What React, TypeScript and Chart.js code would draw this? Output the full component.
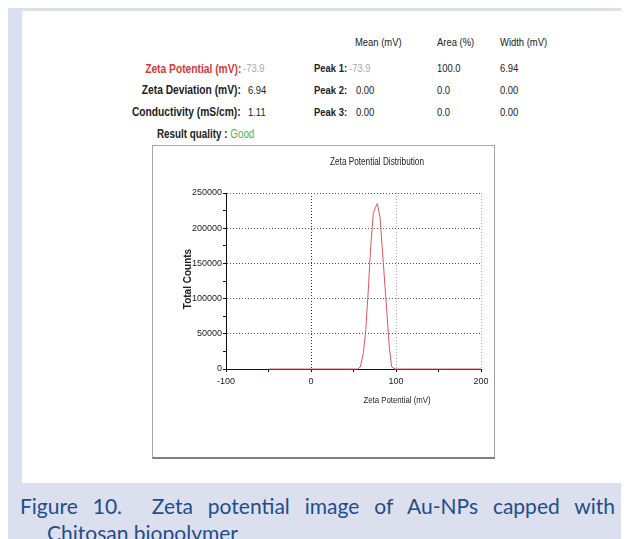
import React, { useEffect, useRef } from "react";
import { Chart, registerables } from "chart.js";

Chart.register(...registerables);

// Zeta potential distribution curve (mV vs. total counts)
const zetaPotentialMv = [-50, 0, 50, 55, 58, 61.5, 64.4, 67.4, 70.2, 73.3, 75.5, 78, 81.2, 85.1, 89.1, 92.1, 94.9, 98.8, 150, 200];
const totalCounts = [0, 0, 0, 0, 3000, 22000, 55000, 112000, 173000, 221000, 229000, 235000, 216000, 150000, 83000, 31000, 3000, 0, 0, 0];

// Axis tick labels
const xTickLabels = [-100, 0, 100, 200];
const yTickLabels = [0, 50000, 100000, 150000, 200000, 250000];

// Result summary table
const columnHeads = ["Mean (mV)", "Area (%)", "Width (mV)"];
const summaryLabels = ["Zeta Potential (mV):", "Zeta Deviation (mV):", "Conductivity (mS/cm):"];
const summaryValues = ["-73.9", "6.94", "1.11"];
const peakLabels = ["Peak 1:", "Peak 2:", "Peak 3:"];
const peakMeans = ["-73.9", "0.00", "0.00"];
const peakAreas = ["100.0", "0.0", "0.0"];
const peakWidths = ["6.94", "0.00", "0.00"];
const qualityLabel = "Result quality : ";
const qualityValue = "Good";

const chartTitle = "Zeta Potential Distribution";
const xAxisTitle = "Zeta Potential (mV)";
const yAxisTitle = "Total Counts";
const captionText = "Figure 10.\u00a0 Zeta potential image of Au-NPs capped with Chitosan biopolymer";

const SANS = "'Liberation Sans', Arial, sans-serif";
const NARROW_SCALE = 0.82; // condensed look for the instrument report text

const ORIGIN = 8; // body margin
const ROW_Y = [69, 90.7, 112.3];

function condensedText(ctx: CanvasRenderingContext2D, text: string, x: number, y: number) {
  ctx.save();
  ctx.translate(x, y);
  ctx.scale(NARROW_SCALE, 1);
  ctx.fillText(text, 0, 0);
  ctx.restore();
}

const axisText = {
  id: "axisText",
  afterDraw(chart: any) {
    const { ctx, chartArea } = chart;
    ctx.save();
    ctx.fillStyle = "#222";
    ctx.textAlign = "center";
    ctx.textBaseline = "middle";
    ctx.font = `10px ${SANS}`;
    condensedText(ctx, chartTitle, chartArea.left + 151, 16);
    ctx.font = `9.5px ${SANS}`;
    condensedText(ctx, xAxisTitle, chartArea.left + 171, chartArea.bottom + 31);
    ctx.translate(35, (chartArea.top + chartArea.bottom) / 2 - 2);
    ctx.rotate(-Math.PI / 2);
    ctx.font = `bold 10px ${SANS}`;
    ctx.fillText(yAxisTitle, 0, 0);
    ctx.restore();
  },
};

function ZetaChart() {
  const ref = useRef<HTMLCanvasElement | null>(null);
  useEffect(() => {
    if (!ref.current) return;
    const chart = new Chart(ref.current, {
      type: "line",
      data: {
        datasets: [
          {
            data: zetaPotentialMv.map((x, i) => ({ x, y: totalCounts[i] })),
            borderColor: "#e05660",
            borderWidth: 1,
            pointRadius: 0,
            tension: 0,
            fill: false,
            clip: false as any,
          },
        ],
      },
      options: {
        animation: false,
        responsive: false,
        devicePixelRatio: 1,
        layout: { padding: { top: 47, right: 13, left: 0, bottom: 0 } },
        plugins: { legend: { display: false }, tooltip: { enabled: false }, title: { display: false } },
        scales: {
          x: {
            type: "linear",
            min: -100,
            max: 200,
            afterFit: (s: any) => {
              s.height = 88;
            },
            ticks: {
              stepSize: 50,
              autoSkip: false,
              maxRotation: 0,
              padding: 4,
              color: "#222",
              font: { size: 9, family: SANS },
              callback: (v: any) => (xTickLabels.includes(Number(v)) ? String(v) : ""),
            },
            grid: {
              color: (c: any) => {
                const v = c.tick ? c.tick.value : 0;
                if (v === 0) return "#333";
                if (v === 100 || v === 200) return "#aaa";
                return "rgba(0,0,0,0)";
              },
              lineWidth: 1,
              tickLength: 3,
              tickColor: "#111",
              tickWidth: 1,
            },
            border: { display: true, color: "#111", width: 1, dash: [1, 2] },
          },
          y: {
            min: 0,
            max: 250000,
            afterFit: (s: any) => {
              s.width = 73;
            },
            ticks: {
              stepSize: 25000,
              autoSkip: false,
              padding: 1,
              color: "#222",
              font: { size: 9, family: SANS },
              callback: (v: any) => (yTickLabels.includes(Number(v)) ? String(v) : ""),
            },
            grid: {
              color: (c: any) => {
                const v = c.tick ? c.tick.value : 0;
                return v % 50000 === 0 && v > 0 ? "#555" : "rgba(0,0,0,0)";
              },
              lineWidth: 1,
              tickLength: 3,
              tickColor: "#111",
              tickWidth: 1,
            },
            border: { display: true, color: "#111", width: 1, dash: [1, 2] },
          },
        },
      },
      plugins: [axisText],
    });
    return () => chart.destroy();
  }, []);
  return <canvas ref={ref} width={341} height={311} style={{ display: "block" }} />;
}

function Txt(props: { x: number; y: number; size: number; right?: boolean; bold?: boolean; color?: string; children: React.ReactNode }) {
  const { x, y, size, right, bold, color, children } = props;
  const box: React.CSSProperties = {
    position: "absolute",
    top: y - ORIGIN - size / 2,
    fontSize: size,
    lineHeight: `${size}px`,
    whiteSpace: "nowrap",
    fontFamily: SANS,
    fontWeight: bold ? 700 : 400,
    color: color || "#222",
  };
  if (right) box.right = 621 - (x - ORIGIN);
  else box.left = x - ORIGIN;
  return (
    <div style={box}>
      <span
        style={{
          display: "inline-block",
          transform: `scaleX(${NARROW_SCALE})`,
          transformOrigin: right ? "right center" : "left center",
        }}
      >
        {children}
      </span>
    </div>
  );
}

export default function App() {
  useEffect(() => {
    document.documentElement.style.overflow = "hidden";
    document.body.style.overflow = "hidden";
  }, []);
  const colX = [355, 437, 500];
  const valueX = [243, 248, 248];
  return (
    <div style={{ position: "relative", width: 621, height: 531, background: "#dcdfee", overflow: "hidden" }}>
      <div style={{ position: "absolute", left: 14, top: 3, width: 600, height: 472, background: "#fff" }} />

      {columnHeads.map((h, i) => (
        <Txt key={h} x={colX[i]} y={42.5} size={11.5}>
          {h}
        </Txt>
      ))}

      {summaryLabels.map((l, i) => (
        <Txt key={l} x={241} y={ROW_Y[i]} size={12.5} right bold color={i === 0 ? "#d23a3a" : "#222"}>
          {l}
        </Txt>
      ))}
      {summaryValues.map((v, i) => (
        <Txt key={"sv" + i} x={valueX[i]} y={ROW_Y[i]} size={11.5} color={i === 0 ? "#a8a8a8" : "#222"}>
          {v}
        </Txt>
      ))}

      {peakLabels.map((l, i) => (
        <Txt key={l} x={314} y={ROW_Y[i]} size={11.5} bold>
          {l}
        </Txt>
      ))}
      {peakMeans.map((v, i) => (
        <Txt key={"pm" + i} x={i === 0 ? 349 : 356} y={ROW_Y[i]} size={11.5} color={i === 0 ? "#a8a8a8" : "#222"}>
          {v}
        </Txt>
      ))}
      {peakAreas.map((v, i) => (
        <Txt key={"pa" + i} x={437} y={ROW_Y[i]} size={11.5}>
          {v}
        </Txt>
      ))}
      {peakWidths.map((v, i) => (
        <Txt key={"pw" + i} x={500} y={ROW_Y[i]} size={11.5}>
          {v}
        </Txt>
      ))}

      <Txt x={157} y={134.3} size={12}>
        <span style={{ fontWeight: 700 }}>{qualityLabel}</span>
        <span style={{ color: "#49b84a" }}>{qualityValue}</span>
      </Txt>

      <div
        style={{
          position: "absolute",
          left: 152 - ORIGIN,
          top: 145 - ORIGIN,
          borderLeft: "1px solid #a8a8a8",
          borderTop: "1px solid #a8a8a8",
          borderRight: "1px solid #a0a0a0",
          borderBottom: "2px solid #808080",
          background: "#fff",
        }}
      >
        <ZetaChart />
      </div>

      <div
        style={{
          position: "absolute",
          left: 20 - ORIGIN,
          top: 491.5 - ORIGIN,
          width: 595 - 27,
          paddingLeft: 27,
          textIndent: -27,
          textAlign: "justify",
          fontFamily: "Lato, 'Open Sans', sans-serif",
          fontSize: 21,
          lineHeight: "27px",
          color: "#1f4e8c",
        }}
      >
        {captionText}
      </div>
    </div>
  );
}
